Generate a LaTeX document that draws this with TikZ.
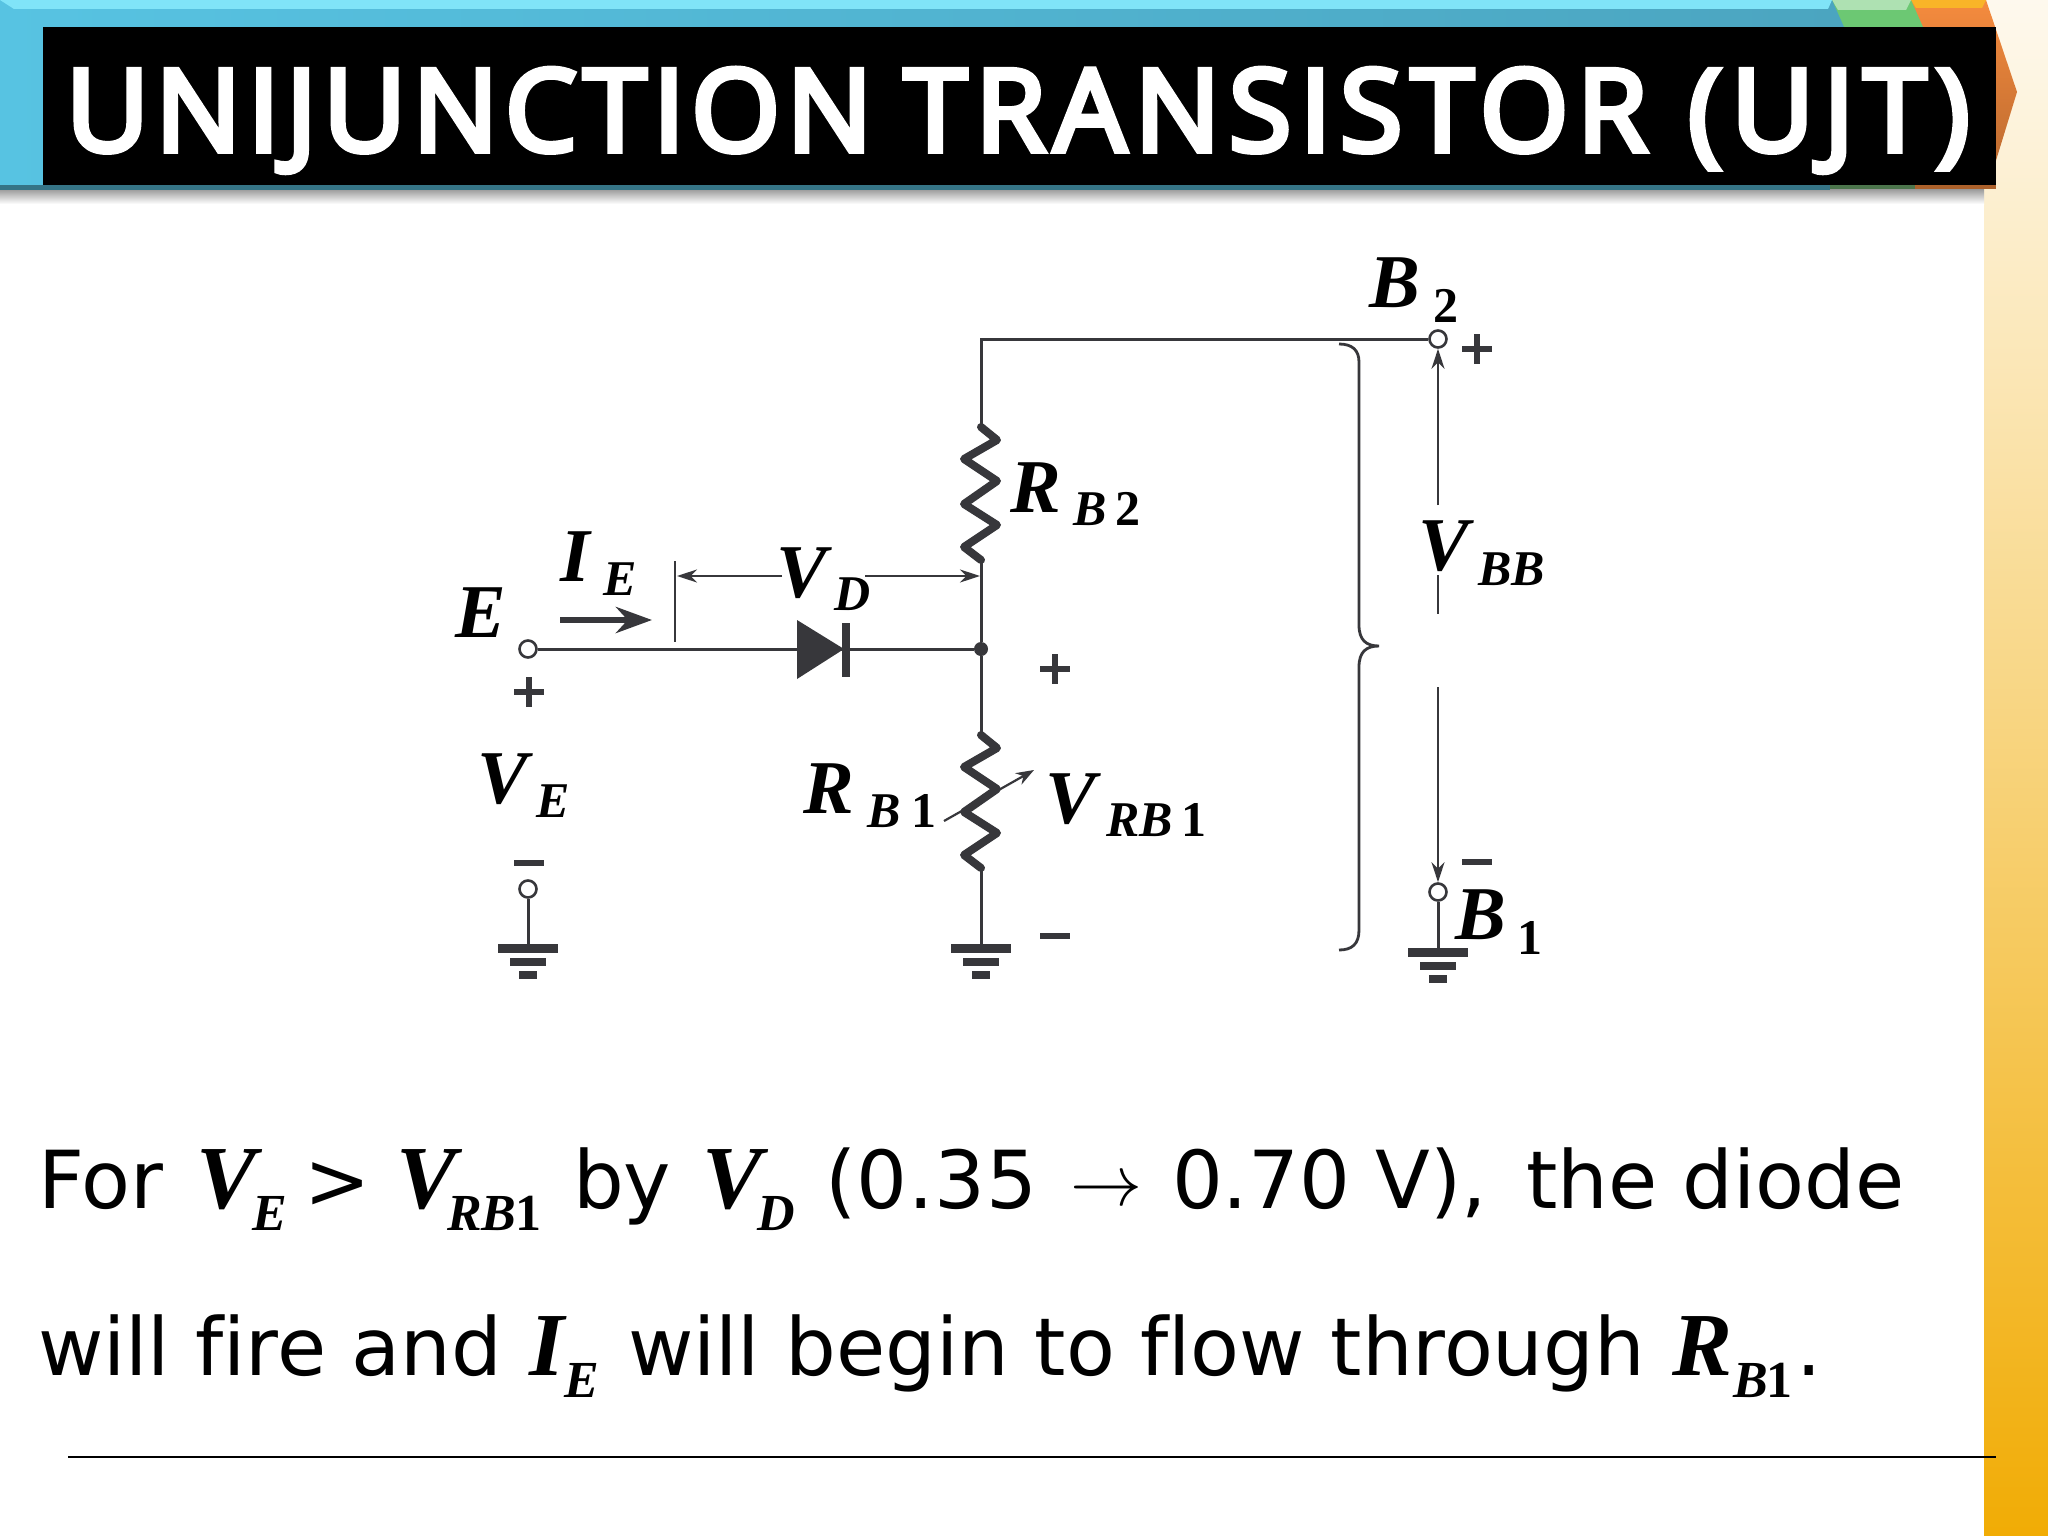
\documentclass[tikz,border=0pt]{standalone}
\usepackage{fontspec}
\setmainfont{DejaVu Sans}
\newfontfamily\titlefont{Open Sans}[FakeBold=5]
\newfontfamily\bodyfont{DejaVu Sans}[Ligatures=NoCommon]
\newfontfamily\mathbi{Liberation Serif}
\newfontfamily\serifb{Liberation Serif}
\usetikzlibrary{arrows.meta}
\definecolor{wireC}{HTML}{37373B}
\definecolor{barblue}{HTML}{57C3E2}
\definecolor{barbluedk}{HTML}{4BA5C0}
\definecolor{barcyan}{HTML}{80E4F8}
\definecolor{bargreen}{HTML}{6CC873}
\definecolor{barorange}{HTML}{F58B3E}
\tikzset{
 x=1pt,y=-1pt,
 wire/.style={draw=wireC,line width=3pt},
 thin wire/.style={draw=wireC,line width=2.2pt},
 term/.style={circle,draw=wireC,fill=white,line width=2.6pt,minimum size=17pt,inner sep=0pt},
 junction/.style={circle,fill=wireC,minimum size=14pt,inner sep=0pt},
 pole/.style={draw=wireC,line width=5.5pt},
 res/.style={draw=wireC,line width=8pt,line join=round,line cap=round},
 lab/.style={anchor=base west,inner sep=0pt,outer sep=0pt,text=black},
 big/.style={lab,font=\fontsize{76}{76}\selectfont\mathbi\bfseries\itshape},
 small/.style={lab,font=\fontsize{50}{50}\selectfont\mathbi\bfseries\itshape},
 num/.style={lab,font=\fontsize{50}{50}\selectfont\serifb\bfseries},
 bodytext/.style={lab,font=\fontsize{80}{80}\selectfont\bodyfont,text=black},
 bodyv/.style={lab,font=\fontsize{90}{90}\selectfont\mathbi\bfseries\itshape},
 bodys/.style={lab,font=\fontsize{52}{52}\selectfont\mathbi\bfseries\itshape},
 bodyn/.style={lab,font=\fontsize{52}{52}\selectfont\serifb\bfseries},
 titletext/.style={lab,text=white,font=\fontsize{114}{114}\selectfont\titlefont},
 tip/.style={-{Stealth[length=20pt,width=13pt]}},
}
\newcommand{\grd}[2]{%
 \fill[wireC] (#1-30,#2-6) rectangle (#1+30,#2+3);
 \fill[wireC] (#1-18,#2+8) rectangle (#1+18,#2+16);
 \fill[wireC] (#1-9,#2+21) rectangle (#1+9,#2+29);
}
\begin{document}
\begin{tikzpicture}
\useasboundingbox (0,0) rectangle (2048,1536);
\fill[white] (0,0) rectangle (2048,1536);
% right strip
\shade[top color={rgb,255:red,254;green,249;blue,238},middle color={rgb,255:red,247;green,216;blue,140},bottom color={rgb,255:red,241;green,172;blue,5}] (1984,0) rectangle (2048,1536);
% shadow
\shade[top color=black!40,bottom color=white] (0,189) rectangle (1984,204);
% tab orange
\shade[top color=barorange,bottom color=barorange!75!black] (1911,0) -- (1986,0) -- (2017,92) -- (1990,180) -- (1900,185) -- cycle;
\fill[barorange!65!yellow] (1911,0) -- (1986,0) -- (1982,8) -- (1916,8) -- cycle;
% tab green
\fill[bargreen] (1832,0) -- (1911,0) -- (1923,27) -- (1923,185) -- (1820,185) -- cycle;
\fill[bargreen!55!white] (1832,0) -- (1911,0) -- (1906,10) -- (1838,10) -- cycle;
% tab blue
\shade[left color=barblue,middle color=barblue,right color=barbluedk] (0,0) -- (1832,0) -- (1844,27) -- (1844,188) -- (0,188) -- cycle;
\fill[barcyan] (0,0) -- (1832,0) -- (1828,9) -- (14,9) -- cycle;
\fill[barbluedk!70!black] (0,185) rectangle (1830,190);
\fill[black!60!green!40!gray] (1830,185) rectangle (1915,189);
\fill[barorange!70!black] (1915,185) rectangle (1996,189);
% title
\fill[black] (43,27) rectangle (1996,185);
\node[titletext] (title1) at (66,151) {\addfontfeature{LetterSpace=5.7}UNIJUNCTION};
\node[titletext] (title2) at (904,151) {\addfontfeature{LetterSpace=7.3}TRANSISTOR};
\node[titletext] (title3) at (1688,151) {\addfontfeature{LetterSpace=8.3}(UJT)};
% terminals
\node[term] (E) at (528,649) {};
\node[term] (E0) at (528,889) {};
\node[term] (B2) at (1438,339) {};
\node[term] (B1) at (1438,892) {};
\node[junction] (J) at (981,649) {};
\coordinate (T) at (981,339);
\coordinate (Ga) at (528,944);
\coordinate (Gb) at (981,944);
\coordinate (Gc) at (1438,948);
\coordinate (R2t) at (981,427);
\coordinate (R2b) at (981,560);
\coordinate (R1t) at (981,735);
\coordinate (R1b) at (981,868);
% wires
\draw[wire] (E) -- (J);
\draw[wire] (J) -- (R1t);
\draw[wire] (R1b) -- (Gb);
\draw[wire] (R2b) -- (J);
\draw[wire] (R2t) -- (T) -- (B2);
\draw[wire] (E0) -- (Ga);
\draw[wire] (B1) -- (Gc);
% grounds
\grd{528}{950}
\grd{981}{950}
\grd{1438}{954}
% resistors
\draw[res] (R2t) -- (997,440) -- (964,459) -- (997,481) -- (964,504) -- (997,525) -- (964,547) -- (R2b);
\draw[res] (R1t) -- (997,748) -- (964,767) -- (997,789) -- (964,812) -- (997,833) -- (964,855) -- (R1b);
% variable arrow
\coordinate (Va) at (944,821);
\coordinate (Vb) at (1034,770);
\draw[thin wire,-{Stealth[length=18pt,width=13pt]}] (Va) -- (Vb);
% diode
\coordinate (Da) at (797,620);
\coordinate (Db) at (797,679);
\coordinate (Dc) at (844,649);
\fill[wireC] (Da) -- (Dc) -- (Db) -- cycle;
\fill[wireC] (842,623) rectangle (850,677);
% VD dimension
\coordinate (tickT) at (675,561);
\coordinate (tickB) at (675,642);
\draw[thin wire] (tickT) -- (tickB);
\coordinate (Vl) at (782,576);
\coordinate (Vr) at (865,576);
\coordinate (Vle) at (677,576);
\coordinate (Vre) at (980,576);
\draw[thin wire,tip] (Vl) -- (Vle);
\draw[thin wire,tip] (Vr) -- (Vre);
% IE arrow
\coordinate (Ia) at (560,620);
\coordinate (Ib) at (652,620);
\draw[draw=wireC,line width=6.5pt,-{Stealth[length=36pt,width=26pt]}] (Ia) -- (Ib);
% VBB
\coordinate (Bu) at (1438,505);
\coordinate (Bd) at (1438,687);
\coordinate (Bs1) at (1438,575);
\coordinate (Bs2) at (1438,614);
\draw[thin wire,tip] (Bu) -- (B2);
\draw[thin wire,tip] (Bd) -- (B1);
\draw[thin wire] (Bs1) -- (Bs2);
% brace
\draw[draw=wireC,line width=2.8pt] (1339,344) .. controls (1352,344) and (1359,350) .. (1359,362) -- (1359,625) .. controls (1359,640) and (1366,646) .. (1379,646) .. controls (1366,646) and (1359,652) .. (1359,667) -- (1359,930) .. controls (1359,944) and (1352,950) .. (1339,950);
% plus / minus
\foreach \px/\py in {529/692,1055/669,1477/349}{
 \draw[pole] (\px-15,\py) -- (\px+15,\py);
 \draw[pole] (\px,\py-15) -- (\px,\py+15);
}
\foreach \px/\py in {529/863,1055/936,1477/862}{
 \draw[pole] (\px-15,\py) -- (\px+15,\py);
}
% labels
\node[big] (lE) at (455,637) {E};
\node[big] (lI) at (560,581) {I};
\node[small] (lIE) at (603,595) {E};
\node[big] (lV) at (776,597) {V};
\node[small] (lVD) at (834,610) {D};
\node[big] (lVE) at (477,803) {V};
\node[small] (lVEs) at (536,817) {E};
\node[big] (lR1) at (803,813) {R};
\node[small] (lR1s) at (867,827) {B};
\node[num] (lR1n) at (911,827) {1};
\node[big] (lR2) at (1010,512) {R};
\node[small] (lR2s) at (1073,525) {B};
\node[num] (lR2n) at (1115,525) {2};
\node[big] (lV1) at (1045,823) {V};
\node[small] (lV1s) at (1106,836) {RB};
\node[num] (lV1n) at (1181,836) {1};
\node[big] (lB2) at (1369,307) {B};
\node[num] (lB2n) at (1433,322) {2};
\node[big] (lVB) at (1418,570) {V};
\node[small] (lVBs) at (1478,585) {BB};
\node[big] (lB1) at (1455,939) {B};
\node[num] (lB1n) at (1517,954) {1};
% body line 1
\node[bodytext] (t1) at (38,1208) {For};
\node[bodyv] (t2) at (196,1208) {V};
\node[bodys] (t3) at (252,1230) {E};
\node[lab,font=\fontsize{79}{79}\selectfont\bodyfont] (t4) at (304,1208) {>};
\node[bodyv] (t5) at (396,1208) {V};
\node[bodys] (t6) at (447,1230) {RB};
\node[bodyn] (t6n) at (515,1230) {1};
\node[bodytext] (t7) at (573,1208) {by};
\node[bodyv] (t8) at (702,1208) {V};
\node[bodys] (t9) at (757,1230) {D};
\node[bodytext] (t10) at (825,1208) {\addfontfeature{LetterSpace=1}(0.35};
\node[lab,font=\fontsize{10}{10}\selectfont] (t11) at (1070,1205) {\scalebox{7.2}{$\rightarrow$}};
\node[bodytext] (t12) at (1172,1208) {0.70 V),};
\node[bodytext] (t13) at (1526,1208) {the diode};
% body line 2
\node[bodytext] (u1) at (38,1375) {will fire and};
\node[bodyv] (u2) at (529,1375) {I};
\node[bodys] (u3) at (564,1397) {E};
\node[bodytext] (u4) at (628,1375) {will begin to flow through};
\node[bodyv] (u5) at (1672,1375) {R};
\node[bodys] (u6) at (1733,1397) {B};
\node[bodyn] (u7) at (1766,1397) {1};
\node[bodytext] (u8) at (1796,1375) {.};
% rule
\coordinate (ra) at (68,1457);
\coordinate (rb) at (1996,1457);
\draw[black,line width=1.8pt] (ra) -- (rb);
\end{tikzpicture}
\end{document}
